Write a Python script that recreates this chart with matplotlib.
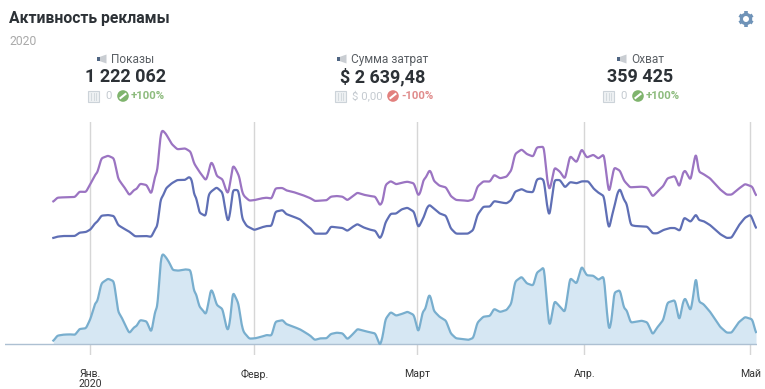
import matplotlib
matplotlib.use("Agg")
import matplotlib.pyplot as plt
import numpy as np
from matplotlib.patches import Polygon, Rectangle, Circle

plt.rcParams['font.family'] = ['Roboto', 'DejaVu Sans']

# time position along the axis, and the activity level of each series
reach_t = [1,13,31,51,66,79,99,113,126,133,145,165,183,195,205,213,229,243,251,261,281,295,307,313,323,328,339,349,359,376,396,413,423,429,439,449,459,466,474,481,491,509,517,525,533,539,547,557,563,571,589,606,626,641,656,667,681,
 689,699,721,741,761,773,785,801,821,833,851,869,883,897,913,931,951,967,981,989,997,1013,1029,1046,1063,1083,1096,1109,1117,1128,1133,1142,1159,1179,1193,1209,1229,1245,1261,1273,1291,1311,1323,1341,1361,1371,
 1375,1386,1406,1421,1441,1451,1463,1473,1481,1489,1496,1504,1521,1536,1551,1571,1586,1601,1621,1636,1653,1661,1668,1676,1683,1701,1713,1721,1733,1766,1783,1799,1813,1831,1843,1866,1879,1889,1896,1913,1922,1929,1937,1951,1971,2001,2021,2036,2056,2076,2098,2109]
reach_v = [10,26,29,30,28,46,48,78,123,128,183,197,189,98,83,65,33,51,55,73,69,34,103,108,253,273,261,245,223,221,225,223,158,153,113,103,88,123,168,153,118,106,63,37,83,159,143,121,73,38,17,18,23,28,26,68,71,
 73,61,53,45,33,25,13,18,18,31,35,33,15,28,46,41,36,33,-5,23,75,97,86,91,98,88,33,98,105,151,143,101,83,71,33,18,16,13,19,65,83,85,107,97,103,117,
 121,188,203,183,176,215,223,233,133,48,83,131,113,95,200,181,235,207,206,193,205,103,37,73,155,163,108,103,65,71,66,29,51,73,125,133,68,123,141,98,153,211,128,121,98,53,35,35,65,82,75,33]

shows_t = [1,13,31,66,79,99,113,126,133,145,165,183,195,205,213,229,243,251,261,281,295,307,313,323,328,339,356,373,396,413,423,439,459,466,474,481,491,509,517,525,533,539,547,559,567,573,589,606,626,641,656,667,681,
 689,699,721,751,773,785,801,821,833,851,869,883,897,913,931,951,967,981,989,997,1013,1029,1046,1063,1083,1096,1103,1111,1119,1129,1134,1142,1159,1179,1193,1209,1229,1245,1261,1273,1291,1311,1323,1341,1361,1371,
 1375,1386,1406,1421,1441,1451,1473,1481,1489,1496,1504,1521,1536,1551,1571,1586,1601,1621,1636,1653,1661,1668,1676,1683,1701,1713,1731,1766,1783,1799,1813,1831,1843,1866,1879,1889,1896,1913,1922,1929,1937,1951,1971,2001,2021,2036,2056,2076,2098,2109]
shows_v = [428,440,441,442,458,457,483,508,515,558,566,558,498,483,473,447,463,466,482,478,449,508,518,633,643,631,601,585,588,578,543,518,491,513,549,538,505,495,468,449,493,538,528,503,458,445,431,433,438,440,437,468,469,
 469,462,457,447,438,430,431,432,443,445,443,432,443,455,449,445,443,416,428,478,490,480,485,488,483,444,458,493,501,523,518,491,476,471,445,433,432,430,435,473,489,488,509,498,503,517,
 521,571,585,571,563,591,593,503,459,488,531,518,495,566,545,587,560,569,557,571,503,451,493,531,521,491,471,473,471,443,458,475,498,505,470,513,523,491,543,578,518,511,498,465,449,449,466,481,473,446]

spend_t = [1,13,31,66,79,99,113,126,133,145,165,183,195,211,229,246,281,295,307,313,323,328,339,356,373,396,409,417,423,429,439,459,466,474,491,509,517,525,533,539,556,561,567,581,604,626,641,656,667,681,
 689,699,721,741,761,773,785,801,821,833,851,869,883,897,913,931,951,967,981,989,997,1013,1029,1046,1063,1083,1096,1103,1113,1121,1129,1142,1159,1179,1193,1209,1229,1245,1261,1273,1291,1311,1323,1341,1361,1371,
 1375,1386,1406,1421,1441,1451,1463,1473,1481,1489,1496,1504,1521,1536,1551,1571,1586,1606,1621,1636,1653,1661,1668,1676,1683,1693,1701,1713,1721,1733,1746,1783,1799,1813,1831,1851,1866,1881,1893,1913,1929,1937,1951,1971,2001,2021,2036,2056,2076,2093,2109]
spend_v = [319,323,325,325,335,337,345,363,368,386,388,385,358,348,338,324,325,322,348,353,438,441,468,483,493,493,503,493,448,443,395,384,448,458,471,455,403,363,403,463,463,433,378,355,343,351,355,355,398,401,
 403,391,383,375,357,348,332,332,332,353,351,349,340,351,361,351,344,341,316,333,365,392,392,405,410,398,349,363,383,408,419,408,393,386,348,332,332,332,343,388,413,413,430,426,423,430,
 433,458,466,458,456,495,498,493,423,380,433,493,493,470,487,483,489,489,468,455,445,383,343,383,408,453,468,433,423,358,355,353,333,333,343,349,349,340,381,367,391,373,370,358,331,319,320,355,380,389,348]

month_t = [112, 604, 1093, 1594, 2092]
month_labels = ["Янв.\n2020", "Февр.", "Март", "Апр.", "Май"]

title = "Активность рекламы"
subtitle = "2020"
kpi_names = ["Показы", "Сумма затрат", "Охват"]
kpi_values = ["1 222 062", "$ 2 639,48", "359 425"]
kpi_prev = ["0", "$ 0,00", "0"]
kpi_change = ["+100%", "-100%", "+100%"]


def rounded(t, v, width=2.5):
    """Round the corners of a series for drawing, as a spline chart does."""
    grid = np.arange(t[0], t[-1] + 1)
    line = np.interp(grid, t, v)
    half = int(3 * width)
    kernel = np.exp(-0.5 * (np.arange(-half, half + 1) / width) ** 2)
    kernel /= kernel.sum()
    padded = np.pad(line, half, mode='edge')
    return grid, np.convolve(padded, kernel, mode='valid')


W, H = 765, 389
fig = plt.figure(figsize=(W/100, H/100), dpi=100, facecolor='white')
ax = fig.add_axes([5/W, (H-355)/H, 752/W, 233/H])
ax.set_xlim(-144, 2112)
ax.set_ylim(-32, 667)
rt, rv = rounded(reach_t, reach_v)
ax.fill_between(rt, rv, 0, color='#d6e7f3', lw=0, zorder=1)
ax.plot(rt, rv, color='#78aece', lw=1.6, zorder=3)
ax.plot(*rounded(spend_t, spend_v), color='#5f6fb5', lw=1.6, zorder=3)
ax.plot(*rounded(shows_t, shows_v), color='#9b74c2', lw=1.6, zorder=3)
ax.axhline(0, color='#adc0d2', lw=1, zorder=2)
ax.set_xticks(month_t)
ax.set_xticklabels(month_labels, fontsize=7.6, color='#333333', linespacing=1.05)
ax.tick_params(axis='x', length=0, pad=10)
ax.set_yticks([])
ax.grid(axis='x', color='#d6d6d6', lw=1, zorder=0)
ax.set_axisbelow(True)
for s in ax.spines.values():
    s.set_visible(False)

# overlay in picture units for header text and small icons
ov = fig.add_axes([0, 0, 1, 1])
ov.set_xlim(0, W)
ov.set_ylim(H, 0)
ov.axis('off')
ov.patch.set_alpha(0)

ov.text(9, 18, title, fontsize=11.3, fontweight='bold', color='#2c3136', va='center', ha='left')
ov.text(9, 41, subtitle, fontsize=8.7, color='#a9a9a9', va='center', ha='left')

# gear icon
gear = '#6f93b8'
ov.add_patch(Circle((746, 19), 4.6, fc='none', ec=gear, lw=2.3))
for a in np.deg2rad(np.arange(0, 360, 60) + 30):
    ov.plot([746 + 5*np.cos(a), 746 + 7.6*np.cos(a)], [19 + 5*np.sin(a), 19 + 7.6*np.sin(a)],
            color=gear, lw=2.6, solid_capstyle='butt')


def megaphone(x, y):
    ov.add_patch(Polygon([(x-4, y-1.5), (x+4.5, y-4.5), (x+4.5, y+4.5), (x-4, y+1.5)], fc='#c9cdd2', ec='none'))
    ov.add_patch(Rectangle((x-5, y-2), 3.5, 3.5, fc='#4f6582', ec='none'))


def calendar(x, y):
    ov.add_patch(Rectangle((x-5.5, y-5.5), 11, 11, fc='#eef1f3', ec='#ccd3d9', lw=0.8))
    for dx in (-2.5, 0, 2.5):
        ov.plot([x+dx, x+dx], [y-3, y+4], color='#d0d6db', lw=0.6)


def badge(x, y, col):
    ov.add_patch(Circle((x, y), 5.8, fc=col, ec='none'))
    ov.plot([x-2.5, x+2.5], [y+2, y-2], color='white', lw=1.5)


cx_name = [(102, 111), (342, 351), (622, 631)]
cx_val = [126, 383, 640]
row = [(94, 105, 123, 131), (341, 352, 393, 401), (609, 620, 638, 646)]
chg_col = ['#8dbb7d', '#e08b8b', '#8dbb7d']
badge_col = ['#7fb46d', '#e2807d', '#7fb46d']
for i in range(3):
    ix, tx = cx_name[i]
    megaphone(ix, 59)
    ov.text(tx, 59, kpi_names[i], fontsize=8.6, color='#5a5f64', va='center', ha='left')
    ov.text(cx_val[i], 77, kpi_values[i], fontsize=13, fontweight='bold', color='#2c3136', va='center', ha='center')
    c, p, b, ch = row[i]
    calendar(c, 96)
    ov.text(p, 95.5, kpi_prev[i], fontsize=8.2, color='#c4cad0', va='center', ha='left')
    badge(b, 96, badge_col[i])
    ov.text(ch, 95.5, kpi_change[i], fontsize=8.2, fontweight='bold', color=chg_col[i], va='center', ha='left')

fig.savefig('out.png', dpi=100, facecolor='white')
